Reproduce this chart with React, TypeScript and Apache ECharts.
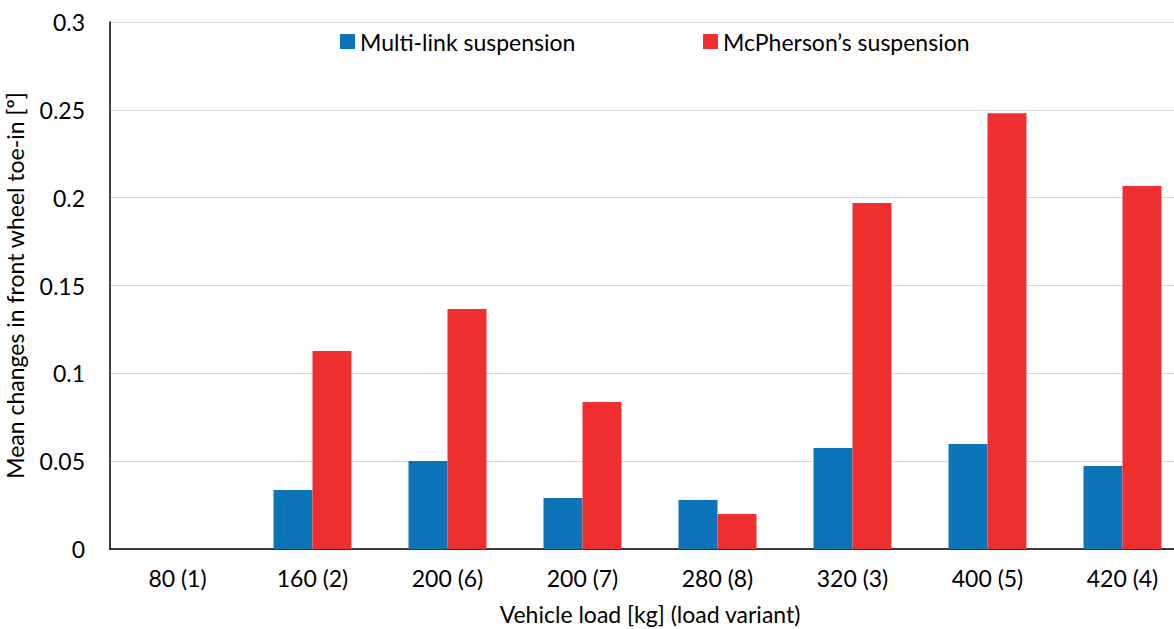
import React, { useEffect, useRef } from "react";
import * as echarts from "echarts";

const categories = ["80 (1)", "160 (2)", "200 (6)", "200 (7)", "280 (8)", "320 (3)", "400 (5)", "420 (4)"];
const multiLink = [0, 0.0336, 0.0501, 0.029, 0.0279, 0.0575, 0.0598, 0.0472];
const mcPherson = [0, 0.1127, 0.1366, 0.0837, 0.0199, 0.197, 0.248, 0.2066];
const yTicks = { min: 0, max: 0.3, interval: 0.05 };

const FONT = "Lato";
const FS = 23;

export default function App() {
  const ref = useRef<HTMLDivElement>(null);
  useEffect(() => {
    const chart = echarts.init(ref.current!, null, { renderer: "svg" });
    chart.setOption({
      animation: false,
      textStyle: { fontFamily: FONT },
      legend: [
        {
          data: ["Multi-link suspension"],
          left: 335,
          top: 25,
          itemWidth: 15,
          itemHeight: 15,
          icon: "rect",
          itemGap: 6,
          textStyle: { fontSize: FS, color: "#000", fontFamily: FONT },
        },
        {
          data: ["McPherson’s suspension"],
          left: 698,
          top: 25,
          itemWidth: 15,
          itemHeight: 15,
          icon: "rect",
          textStyle: { fontSize: FS, color: "#000", fontFamily: FONT },
        },
      ],
      grid: { left: 110, top: 22, height: 527, width: 1080, containLabel: false, outerBoundsMode: "none" },
      xAxis: {
        type: "category",
        data: categories,
        axisLine: { lineStyle: { color: "#000", width: 1.5 } },
        axisTick: { show: false },
        axisLabel: { fontSize: FS, color: "#000", margin: 17, fontFamily: FONT },
        name: "Vehicle load [kg] (load variant)",
        nameLocation: "middle",
        nameGap: 53,
        nameTextStyle: { fontSize: FS, color: "#000", fontFamily: FONT },
      },
      yAxis: {
        type: "value",
        min: yTicks.min,
        max: yTicks.max,
        interval: yTicks.interval,
        axisLine: { show: true, lineStyle: { color: "#000", width: 1.5 } },
        axisTick: { show: false },
        splitLine: { lineStyle: { color: "#d9d9d9", width: 1 } },
        axisLabel: { fontSize: FS, color: "#000", margin: 25, fontFamily: FONT },
        name: "Mean changes in front wheel toe-in [º]",
        nameLocation: "middle",
        nameGap: 84,
        nameTextStyle: { fontSize: FS, color: "#000", fontFamily: FONT },
      },
      series: [
        {
          name: "Multi-link suspension",
          type: "bar",
          data: multiLink,
          barWidth: 39,
          barGap: "0%",
          itemStyle: { color: "#0E74BA" },
        },
        {
          name: "McPherson’s suspension",
          type: "bar",
          data: mcPherson,
          barWidth: 39,
          barGap: "0%",
          itemStyle: { color: "#EE2E2F" },
        },
      ],
    });
    return () => chart.dispose();
  }, []);
  return (
    <div
      ref={ref}
      style={{ position: "absolute", left: 0, top: 0, width: 1174, height: 629, background: "#fff" }}
    />
  );
}
